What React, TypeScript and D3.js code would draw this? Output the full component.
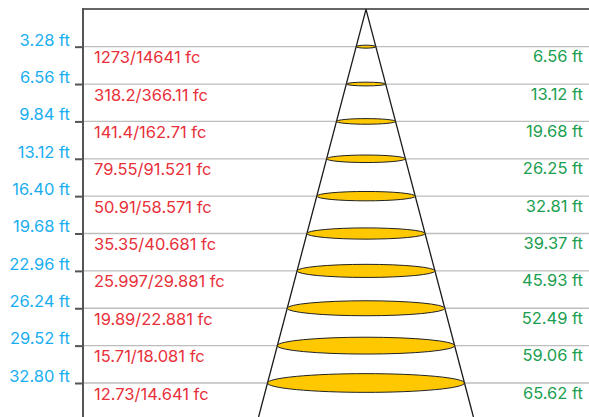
import React, { useRef, useEffect } from 'react'
import * as d3 from 'd3'

// distances from the fixture (ft)
const distances = [3.28, 6.56, 9.84, 13.12, 16.40, 19.68, 22.96, 26.24, 29.52, 32.80]
const distanceLabels = ['3.28 ft', '6.56 ft', '9.84 ft', '13.12 ft', '16.40 ft', '19.68 ft', '22.96 ft', '26.24 ft', '29.52 ft', '32.80 ft']
// illuminance at each distance
const illuminance = ['1273/14641 fc', '318.2/366.11 fc', '141.4/162.71 fc', '79.55/91.521 fc', '50.91/58.571 fc', '35.35/40.681 fc', '25.997/29.881 fc', '19.89/22.881 fc', '15.71/18.081 fc', '12.73/14.641 fc']
// beam diameter at each distance (ft)
const diameters = [6.56, 13.12, 19.68, 26.25, 32.81, 39.37, 45.93, 52.49, 59.06, 65.62]

const W = 589
const H = 417
const FONT = 'Inter, "Noto Sans", sans-serif'

const App = () => {
    const ref = useRef<SVGSVGElement>(null)
    useEffect(() => {
        const svg = d3.select(ref.current)
        svg.selectAll('*').remove()

        const left = 83
        const top = 9.3
        const yScale = d3.scaleLinear().domain([0, 32.8]).range([top, 383])
        const cx = 366
        // half beam width in px
        const rScale = d3.scaleLinear().domain([0, 32.81]).range([0, 98.5])
        const maxDist = yScale.invert(H)

        // grid lines
        svg.append('g')
            .selectAll('line')
            .data(distances)
            .join('line')
            .attr('x1', left)
            .attr('x2', W)
            .attr('y1', d => yScale(d))
            .attr('y2', d => yScale(d))
            .style('stroke', '#bdbdbd')
            .style('stroke-width', 1.3)

        // top border
        svg.append('line')
            .attr('x1', left).attr('x2', W)
            .attr('y1', 9).attr('y2', 9)
            .style('stroke', '#666').style('stroke-width', 2)

        // left axis
        const yAxis = d3.axisLeft(yScale)
            .tickValues(distances)
            .tickFormat((d, i) => distanceLabels[i])
            .tickSize(8)
            .tickPadding(5)
        const ax = svg.append('g')
            .attr('transform', `translate(${left}, 0)`)
            .call(yAxis)
        ax.select('.domain').remove()
        ax.append('line')
            .attr('x1', 0).attr('x2', 0)
            .attr('y1', 8).attr('y2', H)
            .style('stroke', '#555').style('stroke-width', 2)
        ax.selectAll('.tick line').style('stroke', '#555').style('stroke-width', 2)
        ax.selectAll('.tick text')
            .attr('dy', '-0.1em')
            .style('fill', '#1aaef0')
            .style('font-size', '16.5px')
            .style('font-family', FONT)

        // cone edges
        svg.append('g')
            .selectAll('line')
            .data([-1, 1])
            .join('line')
            .attr('x1', cx)
            .attr('y1', yScale(0))
            .attr('x2', s => cx + s * rScale(maxDist))
            .attr('y2', H)
            .style('stroke', '#1a1a1a')
            .style('stroke-width', 1.3)

        // beam ellipses
        svg.append('g')
            .selectAll('ellipse')
            .data(diameters)
            .join('ellipse')
            .attr('cx', cx)
            .attr('cy', (d, i) => yScale(distances[i]))
            .attr('rx', d => rScale(d / 2))
            .attr('ry', d => Math.max(1.5, rScale(d / 2) * 0.095))
            .style('fill', '#ffc800')
            .style('stroke', '#222')
            .style('stroke-width', 1)

        // illuminance labels
        svg.append('g')
            .selectAll('text')
            .data(illuminance)
            .join('text')
            .attr('x', 94)
            .attr('y', (d, i) => yScale(distances[i]) + 16.5)
            .text(d => d)
            .style('fill', '#e8303a')
            .style('font-size', '16.5px')
            .style('font-family', FONT)

        // diameter labels
        svg.append('g')
            .selectAll('text')
            .data(diameters)
            .join('text')
            .attr('x', 583)
            .attr('y', (d, i) => yScale(distances[i]) + 15.5)
            .attr('text-anchor', 'end')
            .text(d => d.toFixed(2) + ' ft')
            .style('fill', '#1a9e4f')
            .style('font-size', '16.5px')
            .style('font-family', FONT)
    }, [])
    return (
        <svg ref={ref} width={W} height={H} style={{ position: 'absolute', left: 0, top: 0, background: 'white' }}></svg>
    )
}

export default App
